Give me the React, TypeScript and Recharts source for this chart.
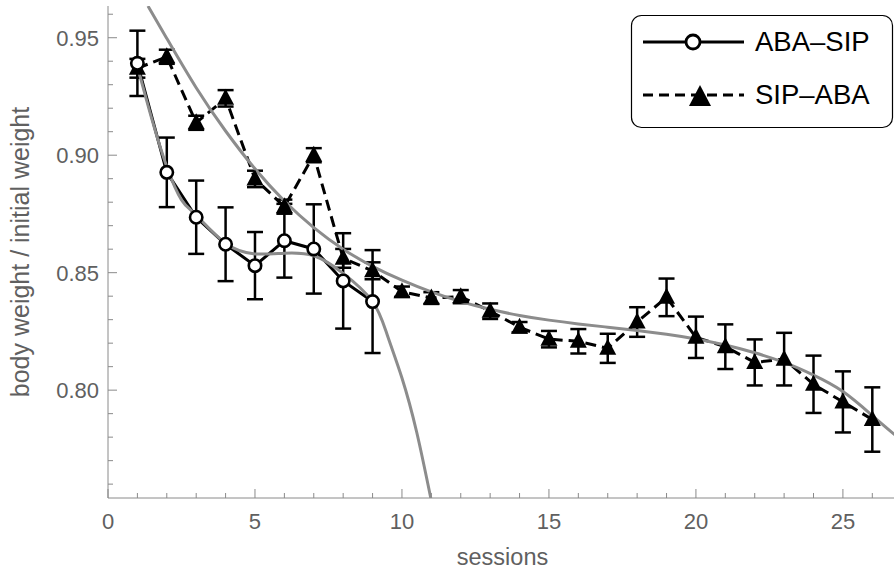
import React from "react"
import { ComposedChart, ErrorBar, Line, XAxis, YAxis } from "recharts"

// ABA-SIP group (open circles, solid line)
const sessionsA = [1, 2, 3, 4, 5, 6, 7, 8, 9]
const weightsA = [0.9391, 0.8927, 0.8736, 0.8621, 0.853, 0.8636, 0.8601, 0.8465, 0.8377]
const errorsA = [0.0139, 0.0148, 0.0156, 0.0157, 0.0143, 0.0157, 0.019, 0.0203, 0.0219]

// SIP-ABA group (filled triangles, dashed line)
const sessionsB = [1, 2, 3, 4, 5, 6, 7, 8, 9, 10, 11, 12, 13, 14, 15, 16, 17, 18, 19, 20, 21, 22, 23, 24, 25, 26]
const weightsB = [
  0.937, 0.9419, 0.9138, 0.9242, 0.8899, 0.8781, 0.9, 0.8561, 0.8508, 0.8419, 0.8392, 0.8398, 0.8336,
  0.8268, 0.8217, 0.8208, 0.8178, 0.829, 0.8395, 0.8225, 0.8185, 0.8118, 0.8132, 0.8025, 0.795, 0.7875,
]
const errorsB = [
  0.004, 0.003, 0.003, 0.0035, 0.0035, 0.003, 0.003, 0.004, 0.0036, 0.0022, 0.0025, 0.0028, 0.0033,
  0.0022, 0.0035, 0.0052, 0.0062, 0.0063, 0.008, 0.0088, 0.0095, 0.0098, 0.0112, 0.0122, 0.013, 0.0137,
]

// gray fitted curves
const fitASessions = [1, 1.5, 2, 2.5, 3, 4, 5, 6, 7, 8, 9, 9.5, 10, 10.5, 10.98]
const fitAWeights = [0.9378, 0.915, 0.8951, 0.881, 0.8745, 0.8625, 0.858, 0.8583, 0.8572, 0.8497, 0.8377, 0.8235, 0.8052, 0.7822, 0.7541]

const fitBSessions = [1.36, 2, 3, 4, 5, 6, 7, 8, 9, 10, 11, 12, 13, 14, 15, 16, 17, 18, 19, 20, 21, 22, 23, 24, 25, 26, 26.84]
const fitBWeights = [
  0.9635, 0.9497, 0.9287, 0.9103, 0.8942, 0.8805, 0.8692, 0.86, 0.8527, 0.8468, 0.8418, 0.8377, 0.8344,
  0.8318, 0.8298, 0.8282, 0.8268, 0.8254, 0.8238, 0.8218, 0.8192, 0.8159, 0.8118, 0.8064, 0.7994, 0.7892, 0.7802,
]

const xTicks = [0, 1, 2, 3, 4, 5, 6, 7, 8, 9, 10, 11, 12, 13, 14, 15, 16, 17, 18, 19, 20, 21, 22, 23, 24, 25, 26]
const yTicks = [0.76, 0.77, 0.78, 0.79, 0.8, 0.81, 0.82, 0.83, 0.84, 0.85, 0.86, 0.87, 0.88, 0.89, 0.9, 0.91, 0.92, 0.93, 0.94, 0.95, 0.96]

const groupA = sessionsA.map((s, i) => ({ session: s, weight: weightsA[i], err: errorsA[i] }))
const groupB = sessionsB.map((s, i) => ({ session: s, weight: weightsB[i], err: errorsB[i] }))
const fitA = fitASessions.map((s, i) => ({ session: s, weight: fitAWeights[i] }))
const fitB = fitBSessions.map((s, i) => ({ session: s, weight: fitBWeights[i] }))

const FONT = "'Liberation Sans', Arial, sans-serif"
const FRAME = "#8a8a8a"
const LABEL = "#606060"
const FIT = "#8c8c8c"

const isMajorX = (v: number) => v % 5 === 0
const isMajorY = (v: number) => Math.round(v * 100) % 5 === 0

const BottomTick = (props: any) => {
  const { x, y, payload } = props
  const major = isMajorX(payload.value)
  return (
    <g>
      <line x1={x} x2={x} y1={y} y2={y - (major ? 9 : 5)} stroke={FRAME} />
      {major && (
        <text x={x} y={y + 31} textAnchor="middle" fill={LABEL} fontSize={22} fontFamily={FONT}>
          {payload.value}
        </text>
      )}
    </g>
  )
}

const TopTick = (props: any) => {
  const { x, y, payload } = props
  const major = isMajorX(payload.value)
  return <line x1={x} x2={x} y1={y} y2={y + (major ? 9 : 5)} stroke={FRAME} />
}

const LeftTick = (props: any) => {
  const { x, y, payload } = props
  const major = isMajorY(payload.value)
  return (
    <g>
      <line x1={x} x2={x + (major ? 9 : 5)} y1={y} y2={y} stroke={FRAME} />
      {major && (
        <text x={x - 9} y={y + 8} textAnchor="end" fill={LABEL} fontSize={22} fontFamily={FONT}>
          {payload.value.toFixed(2)}
        </text>
      )}
    </g>
  )
}

const RightTick = (props: any) => {
  const { x, y, payload } = props
  const major = isMajorY(payload.value)
  return <line x1={x} x2={x - (major ? 9 : 5)} y1={y} y2={y} stroke={FRAME} />
}

const circleDot = (props: any) => (
  <circle key={`c${props.index}`} cx={props.cx} cy={props.cy} r={6.2} fill="#fff" stroke="#000" strokeWidth={2.6} />
)

const triangleDot = (props: any) => {
  const { cx, cy } = props
  return (
    <polygon
      key={`t${props.index}`}
      points={`${cx},${cy - 9.5} ${cx - 8.5},${cy + 6.5} ${cx + 8.5},${cy + 6.5}`}
      fill="#000"
    />
  )
}

function LegendBox() {
  return (
    <svg width={894} height={579} style={{ position: "absolute", left: 0, top: 0, pointerEvents: "none" }}>
      <rect x={631.5} y={15.5} width={261} height={112} rx={10} fill="#fff" stroke="#000" strokeWidth={1.2} />
      <line x1={643} x2={744} y1={42} y2={42} stroke="#000" strokeWidth={3} />
      <circle cx={693} cy={42} r={7} fill="#fff" stroke="#000" strokeWidth={2.8} />
      <text x={755} y={51} fontSize={27.5} fontFamily={FONT} fill="#000">ABA–SIP</text>
      <line x1={643} x2={744} y1={95} y2={95} stroke="#000" strokeWidth={3} strokeDasharray="10 6" />
      <polygon points="700,85 689,106 711,106" fill="#000" />
      <text x={755} y={104} fontSize={27.5} fontFamily={FONT} fill="#000">SIP–ABA</text>
    </svg>
  )
}

export default function App() {
  return (
    <div style={{ position: "absolute", left: 0, top: 0, width: 894, height: 579, overflow: "hidden", background: "#fff" }}>
      <ComposedChart width={897} height={579} margin={{ top: 6, right: 0, bottom: 0, left: 0 }}>
        <XAxis
          dataKey="session"
          type="number"
          domain={[0, 26.84]}
          allowDataOverflow
          ticks={xTicks}
          interval={0}
          tick={<BottomTick />}
          tickLine={false}
          tickSize={0}
          tickMargin={0}
          height={81}
          axisLine={{ stroke: FRAME }}
          label={{
            content: (p: any) => (
              <text
                x={p.viewBox.x + p.viewBox.width / 2}
                y={565}
                textAnchor="middle"
                fill={LABEL}
                fontSize={23.5}
                fontFamily={FONT}
              >
                sessions
              </text>
            ),
          }}
        />
        <XAxis
          xAxisId="top"
          orientation="top"
          dataKey="session"
          type="number"
          domain={[0, 26.84]}
          allowDataOverflow
          ticks={xTicks}
          interval={0}
          tick={<TopTick />}
          tickLine={false}
          tickSize={0}
          tickMargin={0}
          height={0}
          axisLine={{ stroke: FRAME }}
        />
        <YAxis
          type="number"
          domain={[0.7541, 0.9635]}
          allowDataOverflow
          ticks={yTicks}
          interval={0}
          tick={<LeftTick />}
          tickLine={false}
          tickSize={0}
          tickMargin={0}
          width={108}
          axisLine={{ stroke: FRAME }}
          label={{
            content: (p: any) => {
              const cy = p.viewBox.y + p.viewBox.height / 2
              return (
                <text
                  x={29}
                  y={cy}
                  transform={`rotate(-90, 29, ${cy})`}
                  textAnchor="middle"
                  fill={LABEL}
                  fontSize={25}
                  fontFamily={FONT}
                >
                  body weight / initial weight
                </text>
              )
            },
          }}
        />
        <YAxis
          yAxisId="right"
          orientation="right"
          type="number"
          domain={[0.7541, 0.9635]}
          allowDataOverflow
          ticks={yTicks}
          interval={0}
          tick={<RightTick />}
          tickLine={false}
          tickSize={0}
          tickMargin={0}
          width={0}
          axisLine={{ stroke: FRAME }}
        />

        <Line
          data={groupB}
          dataKey="weight"
          stroke="#000"
          strokeWidth={3}
          strokeDasharray="11 6"
          dot={triangleDot}
          activeDot={false}
          isAnimationActive={false}
        >
          <ErrorBar dataKey="err" direction="y" width={8} stroke="#000" strokeWidth={2.5} />
        </Line>
        <Line
          data={groupA}
          dataKey="weight"
          stroke="#000"
          strokeWidth={3}
          dot={circleDot}
          activeDot={false}
          isAnimationActive={false}
        >
          <ErrorBar dataKey="err" direction="y" width={8} stroke="#000" strokeWidth={2.5} />
        </Line>
        <Line
          data={fitA}
          dataKey="weight"
          type="natural"
          stroke={FIT}
          strokeWidth={3}
          dot={false}
          activeDot={false}
          isAnimationActive={false}
        />
        <Line
          data={fitB}
          dataKey="weight"
          type="natural"
          stroke={FIT}
          strokeWidth={3}
          dot={false}
          activeDot={false}
          isAnimationActive={false}
        />
      </ComposedChart>
      <LegendBox />
    </div>
  )
}
